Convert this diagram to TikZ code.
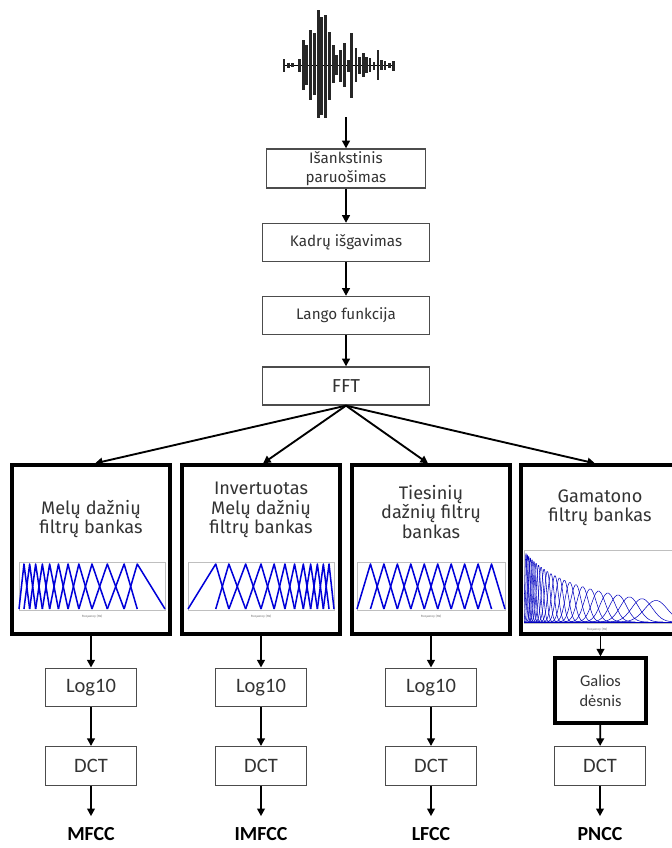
\documentclass[tikz,border=0pt]{standalone}
\usepackage{fontspec}
\setmainfont{Fira Sans}
\newfontfamily\calib{Carlito}
\usetikzlibrary{arrows.meta}

\begin{document}
\begin{tikzpicture}[x=0.3mm,y=-0.3mm,
  box/.style={draw=black!70,line width=1.1pt,align=center,inner sep=0pt,text=black!80},
  wide/.style={box,minimum width=50.1mm,minimum height=11.4mm,font=\fontsize{13}{16}\selectfont},
  small/.style={box,minimum width=27.3mm,minimum height=11.6mm,font=\calib\fontsize{17.5}{20}\selectfont},
  bank/.style={draw=black,line width=2.8pt,inner sep=0pt,minimum width=47.4mm,minimum height=50.7mm},
  banktxt/.style={align=center,inner sep=0pt,text=black!80,font=\fontsize{15.5}{16.6}\selectfont},
  lbl/.style={inner sep=0pt,font=\calib\bfseries\fontsize{17}{20}\selectfont},
  arr/.style={line width=1.6pt,-{Triangle[length=6.5pt,width=6.5pt]}},
  fb/.style={blue!85!black,line width=1.3pt,line join=round},
  gt/.style={blue!75!black,line width=0.45pt},
  frame/.style={draw=black!25,line width=0.4pt},
  tiny/.style={inner sep=0pt,font=\fontsize{2.6}{3}\selectfont,text=black!60}]
\useasboundingbox (0,0) rectangle (672,848);

% speech signal
\draw[line width=0.8pt] (284,65) -- (394,65);
\foreach \x/\t/\b in {284/59/72, 288.3/62.7/68.3, 292.7/63.3/67.3, 299.3/59.3/71.7,
    303.3/40/90, 306.7/45/85, 310.7/30/100, 314.3/33/95, 318.3/10/118,
    321.7/17/115, 325.3/15/118, 329.3/32/100, 333.3/45/83, 336.7/55/75,
    340.7/50/82, 344.3/43/87, 348.3/60/72, 351.7/33/98, 356/48/82,
    359.3/57/74, 363.3/53/77, 366.7/57/73, 370/58/72, 374/62/70,
    378/50/80, 381.7/60/70, 385/61/70, 389.3/63/68, 393.3/61/71}
  \draw[line width=2.3pt,black!85] (\x,\t) -- (\x,\b);
\coordinate (wave) at (346,117);

% common chain
\node[wide,minimum width=47.7mm,minimum height=11.7mm] (prep) at (346,168.5) {Išankstinis\\paruošimas};
\node[wide] (frames) at (346,242.5) {Kadrų išgavimas};
\node[wide] (window) at (346,315.5) {Lango funkcija};
\node[wide,font=\fontsize{16}{18}\selectfont] (fft) at (346,386) {FFT};

\draw[arr] (wave) -- (prep.north);
\draw[arr] (prep) -- (frames);
\draw[arr] (frames) -- (window);
\draw[arr] (window) -- (fft);

% filter banks
\node[bank] (bank1) at (91,549.5) {};
\node[bank] (bank2) at (261,549.5) {};
\node[bank] (bank3) at (431,549.5) {};
\node[bank] (bank4) at (600,549.5) {};

\node[banktxt] (meltxt) at (91,519) {Melų dažnių\\filtrų bankas};
\node[banktxt] (imeltxt) at (261,510) {Invertuotas\\Melų dažnių\\filtrų bankas};
\node[banktxt] (lintxt) at (431,512) {Tiesinių\\dažnių filtrų\\bankas};
\node[banktxt] (gamtxt) at (600,508) {Gamatono\\filtrų bankas};

\foreach \b/\s in {bank1/4, bank2/2, bank3/-3, bank4/-5}
  \draw[arr] (fft.south) -- ([xshift=\s*0.3mm]\b.north);

% mel
\draw[frame] (19,562) rectangle (165,610);
\foreach \a/\b/\c in {0/.034/.073, .034/.073/.114, .073/.114/.16, .114/.16/.21,
    .16/.21/.27, .21/.27/.336, .27/.336/.41, .336/.41/.50, .41/.50/.605,
    .50/.605/.72, .605/.72/.81, .72/.81/1}
  \draw[fb] (19+146*\a,609) -- (19+146*\b,564) -- (19+146*\c,609);
\node[tiny] (melax) at (92,617) {Frequency (Hz)};

% inverted mel
\draw[frame] (188,562) rectangle (334,610);
\foreach \a/\b/\c in {0/.034/.073, .034/.073/.114, .073/.114/.16, .114/.16/.21,
    .16/.21/.27, .21/.27/.336, .27/.336/.41, .336/.41/.50, .41/.50/.605,
    .50/.605/.72, .605/.72/.81, .72/.81/1}
  \draw[fb] (334-146*\a,609) -- (334-146*\b,564) -- (334-146*\c,609);
\node[tiny] (imelax) at (261,617) {Frequency (Hz)};

% linear
\draw[frame] (357,562) rectangle (505,610);
\foreach \i in {0,...,9}
  \draw[fb] (357+148*\i/11,609) -- (357+148*\i/11+148/11,564) -- (357+148*\i/11+296/11,609);
\node[tiny] (linax) at (431,617) {Frequency (Hz)};

% gammatone
\draw[frame] (524,550) rectangle (672,623);
\begin{scope}
\clip (524,548) rectangle (672,623);
\foreach \i [evaluate=\i as \c using {526+130*(exp(2.5*\i/24)-1)/(exp(2.5)-1)},
             evaluate=\i as \w using {1.6+0.11*(526+130*(exp(2.5*\i/24)-1)/(exp(2.5)-1)-526)},
             evaluate=\i as \h using {1/(0.0145+0.000238*(526+130*(exp(2.5*\i/24)-1)/(exp(2.5)-1)-526))}]
    in {0,...,24}
  \draw[gt] plot[domain=\c-2.6*\w:\c+2.6*\w,samples=30,smooth] (\x,{622-\h*exp(-((\x-\c)/\w)^2)});
\end{scope}
\draw[blue!75!black,line width=0.8pt] (524,622) -- (672,622);
\node[tiny] (gamax) at (597,630) {Frequency (Hz)};

% per-branch steps
\node[small] (log1) at (91,687.5) {Log10};
\node[small] (log2) at (261,687.5) {Log10};
\node[small] (log3) at (431,687.5) {Log10};
\node[box,line width=2.6pt,draw=black,minimum width=27.3mm,minimum height=19.5mm,
      font=\calib\fontsize{14}{17}\selectfont] (pow) at (600.5,690.5) {Galios\\dėsnis};

\node[small] (dct1) at (91,766) {DCT};
\node[small] (dct2) at (261,766) {DCT};
\node[small] (dct3) at (431,766) {DCT};
\node[small] (dct4) at (600,766) {DCT};

\node[lbl] (mfcc) at (91,834) {MFCC};
\node[lbl] (imfcc) at (261,834) {IMFCC};
\node[lbl] (lfcc) at (431,834) {LFCC};
\node[lbl] (pncc) at (600,834) {PNCC};

\draw[arr] (bank1) -- (log1);
\draw[arr] (bank2) -- (log2);
\draw[arr] (bank3) -- (log3);
\draw[arr] (bank4.south -| pow) -- (pow);
\draw[arr] (log1) -- (dct1);
\draw[arr] (log2) -- (dct2);
\draw[arr] (log3) -- (dct3);
\draw[arr] (pow) -- (dct4);
\foreach \d/\l in {dct1/mfcc, dct2/imfcc, dct3/lfcc, dct4/pncc}
  \draw[arr,shorten >=3.3mm] (\d.south) -- (\l.north);
\end{tikzpicture}
\end{document}
